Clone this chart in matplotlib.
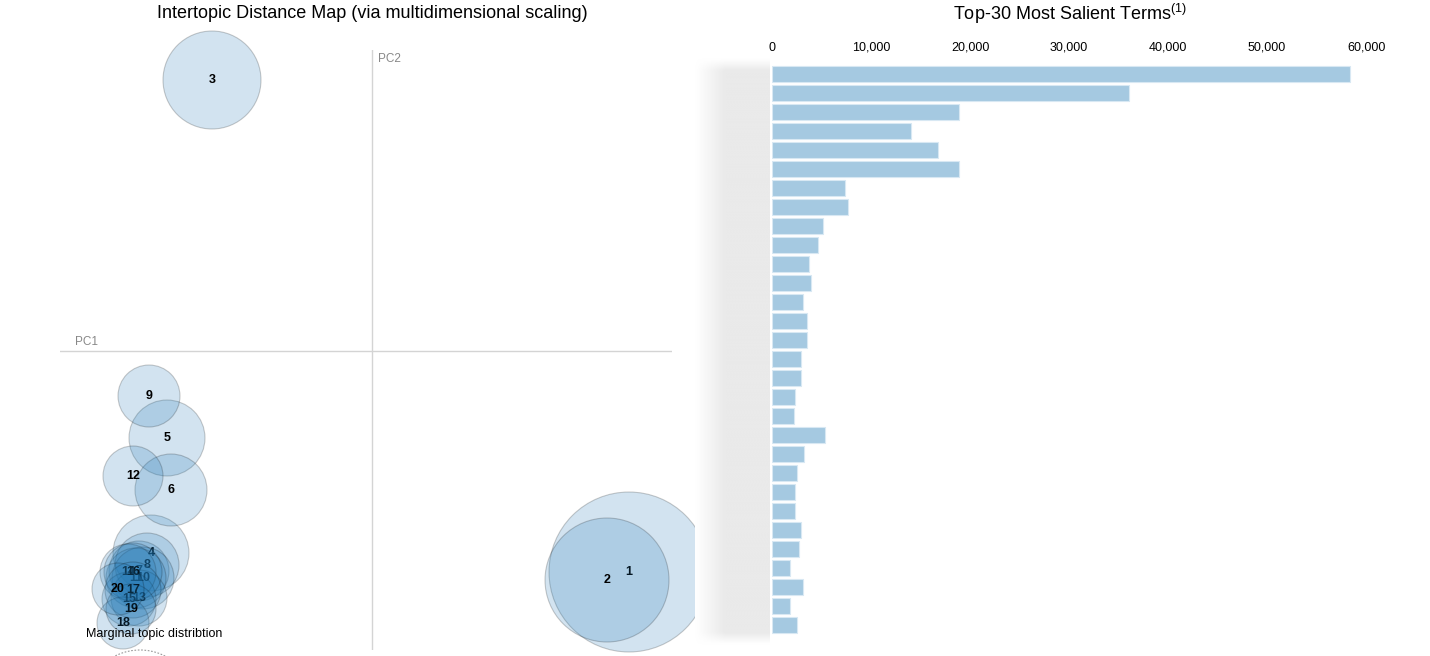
import numpy as np
import matplotlib.pyplot as plt
from matplotlib.patches import Circle
from matplotlib.ticker import FuncFormatter

plt.rcParams['font.family'] = ['Liberation Sans', 'DejaVu Sans']
plt.rcParams['mathtext.fontset'] = 'custom'
plt.rcParams['mathtext.rm'] = 'Liberation Sans'

# topic positions in PC space (MDS) and circle radii
topics = list(range(1, 21))
pc1 = [0.257, 0.235, -0.160, -0.221, -0.205, -0.201, -0.233, -0.225, -0.223, -0.229,
       -0.236, -0.239, -0.233, -0.244, -0.243, -0.239, -0.239, -0.249, -0.241, -0.254]
pc2 = [-0.221, -0.229, 0.271, -0.202, -0.087, -0.139, -0.220, -0.214, -0.045, -0.227,
       -0.227, -0.125, -0.247, -0.221, -0.248, -0.221, -0.239, -0.272, -0.258, -0.238]
radius = [0.080, 0.062, 0.049, 0.038, 0.038, 0.036, 0.030, 0.032, 0.031, 0.031,
          0.030, 0.030, 0.028, 0.028, 0.027, 0.029, 0.028, 0.026, 0.025, 0.026]

# top-30 salient terms, overall frequency (term labels not readable)
freq = [58400, 36100, 18900, 14000, 16800, 18900, 7400, 7700, 5200, 4600,
        3700, 3900, 3100, 3500, 3500, 2900, 2900, 2300, 2200, 5400,
        3200, 2500, 2300, 2300, 2900, 2700, 1800, 3100, 1800, 2500]
xticks = [0, 10000, 20000, 30000, 40000, 50000, 60000]

W, H = 1430, 656
fig = plt.figure(figsize=(W / 100, H / 100), dpi=100, facecolor='white')

def px(x0, y0, x1, y1):
    return [x0 / W, 1 - y1 / H, (x1 - x0) / W, (y1 - y0) / H]

# ---- left: intertopic distance map
ax = fig.add_axes(px(60, 50, 672, 650))
ax.set_xlim(-0.312, 0.300)
ax.set_ylim(-0.299, 0.301)
ax.axis('off')
ax.axhline(0, color='#d4d4d4', lw=1, zorder=0)
ax.axvline(0, color='#d4d4d4', lw=1, zorder=0)
ax.text(0.006, 0.292, 'PC2', color='#888888', fontsize=8.5, ha='left', va='center')
ax.text(-0.297, 0.009, 'PC1', color='#888888', fontsize=8.5, ha='left', va='center')

for i, t in enumerate(topics):
    c = Circle((pc1[i], pc2[i]), radius[i], facecolor=(0.122, 0.467, 0.706, 0.2),
               edgecolor=(0, 0, 0, 0.2), lw=0.8, zorder=2 * i + 1, clip_on=False)
    ax.add_patch(c)
    ax.text(pc1[i], pc2[i], str(t), ha='center', va='center', fontsize=9,
            fontweight='bold', color='black', zorder=2 * i + 2)

ax.text(-0.286, -0.283, 'Marginal topic distribtion', fontsize=9, ha='left',
        va='center', color='black', zorder=100)
ax.add_patch(Circle((-0.232, -0.354), 0.055, fill=False, edgecolor='#999999',
                    ls=(0, (1.5, 1.5)), lw=0.8, clip_on=False, zorder=100))

# ---- blurred term label area
axg = fig.add_axes(px(695, 58, 770, 645))
gx = np.linspace(0, 1, 200)
gy = np.linspace(0, 1, 300)
sx = np.clip(gx / 0.4, 0, 1)
sy = np.clip(np.minimum(gy, 1 - gy) / 0.02, 0, 1)
img = 1 - 0.085 * np.outer(sy, sx)
axg.imshow(img, cmap='gray', vmin=0, vmax=1, aspect='auto', interpolation='bicubic')
axg.axis('off')

# ---- right: bar chart
y_top, y_bot = 57, 645
axb = fig.add_axes(px(772, y_top, 1376, y_bot))
pos = np.arange(len(freq))
axb.barh(pos, freq, height=0.84, color='#a5c9e1', edgecolor='#d8e8f3', lw=0.8)
axb.set_xlim(0, 61000)
axb.set_ylim((y_bot - 74) / 19, (y_top - 74) / 19)
axb.xaxis.tick_top()
axb.set_xticks(xticks)
axb.xaxis.set_major_formatter(FuncFormatter(lambda v, p: f'{int(v):,}'))
axb.tick_params(axis='x', length=0, pad=2.5, labelsize=9)
axb.set_yticks([])
for s in axb.spines.values():
    s.set_visible(False)

fig.text(372 / W, 1 - 14 / H, 'Intertopic Distance Map (via multidimensional scaling)',
         ha='center', va='center', fontsize=13)
fig.text(1070 / W, 1 - 14 / H, r'Top-30 Most Salient Terms$^{(1)}$',
         ha='center', va='center', fontsize=13)

fig.savefig('out.png', dpi=100, facecolor='white')
